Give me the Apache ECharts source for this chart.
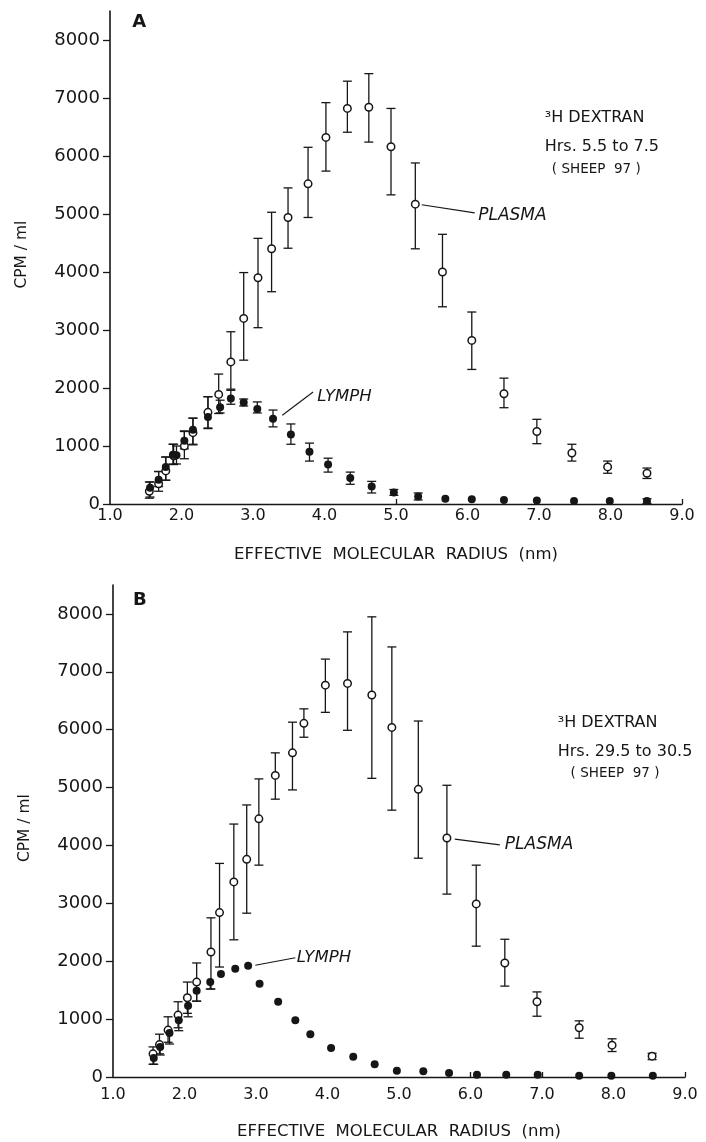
<!DOCTYPE html>
<html><head><meta charset="utf-8">
<script src="https://cdn.jsdelivr.net/npm/echarts@6/dist/echarts.min.js"></script>
<style>html,body{margin:0;padding:0;background:#fff}#c{width:706px;height:1142px}</style>
</head><body><div id="c"></div>
<script>
// ---------- tick labels ----------
const xTickValues = [1, 2, 3, 4, 5, 6, 7, 8, 9];
const yTickValues = [0, 1000, 2000, 3000, 4000, 5000, 6000, 7000, 8000];

// ---------- Panel A : Hrs 5.5 to 7.5 ----------
const aPlasmaX  = [1.55, 1.68, 1.78, 1.89, 2.04, 2.16, 2.37, 2.52, 2.69, 2.87, 3.07, 3.26, 3.49, 3.77, 4.02, 4.32, 4.62, 4.93, 5.27, 5.65, 6.06, 6.51, 6.97, 7.46, 7.96, 8.51];
const aPlasmaY  = [220, 350, 570, 830, 1000, 1230, 1580, 1890, 2450, 3200, 3900, 4400, 4940, 5520, 6320, 6820, 6840, 6160, 5170, 4000, 2820, 1900, 1250, 880, 640, 530];
const aPlasmaHi = [380, 560, 810, 1030, 1250, 1480, 1850, 2240, 2970, 3990, 4580, 5030, 5450, 6150, 6920, 7290, 7420, 6820, 5880, 4650, 3310, 2170, 1460, 1030, 740, 620];
const aPlasmaLo = [100, 220, 410, 680, 780, 1020, 1300, 1560, 1980, 2480, 3040, 3660, 4410, 4940, 5740, 6410, 6240, 5330, 4400, 3400, 2320, 1660, 1040, 740, 530, 440];

const aLymphX  = [1.56, 1.68, 1.78, 1.88, 1.93, 2.04, 2.16, 2.37, 2.54, 2.69, 2.87, 3.06, 3.28, 3.53, 3.79, 4.05, 4.36, 4.66, 4.97, 5.31, 5.69, 6.06, 6.51, 6.97, 7.49, 7.99, 8.51];
const aLymphY  = [280, 420, 640, 850, 840, 1090, 1280, 1500, 1670, 1820, 1750, 1640, 1470, 1200, 900, 680, 450, 300, 200, 130, 90, 80, 70, 60, 50, 50, 50];
const aLymphHi = [380, 560, 810, 1030, 1000, 1260, 1480, 1850, 1790, 1960, 1810, 1760, 1620, 1380, 1050, 790, 550, 390, 250, 190, 90, 80, 70, 60, 50, 50, 90];
const aLymphLo = [120, 300, 410, 690, 690, 950, 1030, 1310, 1570, 1720, 1690, 1570, 1330, 1030, 740, 550, 340, 190, 150, 70, 90, 80, 70, 60, 50, 50, 10];

// ---------- Panel B : Hrs 29.5 to 30.5 ----------
const bPlasmaX  = [1.56, 1.65, 1.77, 1.91, 2.04, 2.17, 2.37, 2.49, 2.69, 2.87, 3.04, 3.27, 3.51, 3.67, 3.97, 4.28, 4.62, 4.90, 5.27, 5.67, 6.08, 6.48, 6.93, 7.52, 7.98, 8.54];
const bPlasmaY  = [400, 560, 810, 1070, 1370, 1640, 2160, 2840, 3370, 3760, 4460, 5210, 5600, 6110, 6770, 6800, 6600, 6040, 4970, 4130, 2990, 1970, 1300, 850, 550, 360];
const bPlasmaHi = [520, 740, 1040, 1300, 1640, 1970, 2750, 3690, 4370, 4700, 5150, 5600, 6130, 6360, 7220, 7690, 7950, 7430, 6150, 5040, 3660, 2380, 1470, 970, 660, 410];
const bPlasmaLo = [220, 400, 600, 850, 1100, 1310, 1520, 1900, 2370, 2830, 3660, 4800, 4960, 5870, 6300, 5990, 5160, 4610, 3780, 3160, 2260, 1570, 1050, 670, 440, 300];

const bLymphX  = [1.57, 1.66, 1.79, 1.92, 2.05, 2.17, 2.36, 2.51, 2.71, 2.89, 3.05, 3.31, 3.55, 3.76, 4.05, 4.36, 4.66, 4.97, 5.34, 5.70, 6.09, 6.50, 6.94, 7.52, 7.97, 8.55];
const bLymphY  = [330, 520, 760, 980, 1230, 1490, 1640, 1780, 1870, 1920, 1610, 1300, 980, 740, 500, 350, 220, 110, 100, 70, 40, 40, 40, 20, 20, 20];
const bLymphLo = [220, 380, 570, 800, 1040, 1310, 1520, 1780, 1870, 1920, 1610, 1300, 980, 740, 500, 350, 220, 110, 100, 70, 40, 40, 40, 20, 20, 20];

// ---------- text ----------
const xTitle = 'EFFECTIVE  MOLECULAR  RADIUS  (nm)';
const yTitle = 'CPM / ml';
const aLines = ['\u00B3H DEXTRAN', 'Hrs. 5.5 to 7.5', '( SHEEP  97 )'];
const bLines = ['\u00B3H DEXTRAN', 'Hrs. 29.5 to 30.5', '( SHEEP  97 )'];

const FONT = 'DejaVu Sans';
const INK = '#161616';
const chart = echarts.init(document.getElementById('c'), null, {renderer: 'canvas'});

function errData(xs, ys, los, his) {
  return xs.map((x, i) => [x, los[i], his ? his[i] : ys[i], ys[i]]);
}
function errSeries(idx, data) {
  return {
    type: 'custom', xAxisIndex: idx, yAxisIndex: idx, data: data, z: 2, silent: true,
    renderItem: function (params, api) {
      const x = api.value(0), lo = api.value(1), hi = api.value(2), y = api.value(3);
      const a = api.coord([x, lo]), b = api.coord([x, hi]);
      if (Math.abs(a[1] - b[1]) < 2) return null;
      const w = 4.5, st = {stroke: INK, lineWidth: 1.3};
      const ch = [{type: 'line', shape: {x1: a[0], y1: a[1], x2: b[0], y2: b[1]}, style: st}];
      if (hi > y) ch.push({type: 'line', shape: {x1: b[0] - w, y1: b[1], x2: b[0] + w, y2: b[1]}, style: st});
      if (lo < y) ch.push({type: 'line', shape: {x1: a[0] - w, y1: a[1], x2: a[0] + w, y2: a[1]}, style: st});
      return {type: 'group', children: ch};
    }
  };
}
function pts(xs, ys) { return xs.map((x, i) => [x, ys[i]]); }
function openSeries(idx, data) {
  return {type: 'scatter', xAxisIndex: idx, yAxisIndex: idx, data: data, z: 3, symbol: 'circle', symbolSize: 7.5,
    itemStyle: {color: '#fff', borderColor: INK, borderWidth: 1.5, opacity: 1}, silent: true};
}
function filledSeries(idx, data) {
  return {type: 'scatter', xAxisIndex: idx, yAxisIndex: idx, data: data, z: 4, symbol: 'circle', symbolSize: 8,
    itemStyle: {color: INK, opacity: 1}, silent: true};
}
function xAxisDef(idx, labelMargin, nameGap, tickVals) {
  return {
    type: 'value', gridIndex: idx, min: 1, max: 9, interval: 1,
    axisLine: {show: true, lineStyle: {color: INK, width: 1.4}},
    axisTick: {show: true, inside: true, length: 5, customValues: tickVals, lineStyle: {color: INK, width: 1.3}},
    axisLabel: {customValues: xTickValues, formatter: v => v.toFixed(1), color: INK, fontFamily: FONT, fontSize: 16, margin: labelMargin},
    splitLine: {show: false},
    name: xTitle, nameLocation: 'middle', nameGap: nameGap,
    nameTextStyle: {color: INK, fontFamily: FONT, fontSize: 16.5}
  };
}
function yAxisDef(idx) {
  return {
    type: 'value', gridIndex: idx, min: 0, max: 8500,
    axisLine: {show: true, lineStyle: {color: INK, width: 1.6}},
    axisTick: {show: true, inside: false, length: 7, customValues: yTickValues, lineStyle: {color: INK, width: 1.3}},
    axisLabel: {customValues: yTickValues, formatter: v => (v > 8000 ? '' : String(v)), color: INK, fontFamily: FONT, fontSize: 18, margin: 10},
    splitLine: {show: false}
  };
}

chart.setOption({
  animation: false,
  backgroundColor: '#fff',
  grid: [
    {left: 110, right: 24, top: 11, bottom: 638},
    {left: 113, right: 21, top: 585, bottom: 65}
  ],
  xAxis: [xAxisDef(0, 4, 42, [5, 9]), xAxisDef(1, 10, 46, [6, 7, 9])],
  yAxis: [yAxisDef(0), yAxisDef(1)],
  series: [
    errSeries(0, errData(aPlasmaX, aPlasmaY, aPlasmaLo, aPlasmaHi)),
    errSeries(0, errData(aLymphX, aLymphY, aLymphLo, aLymphHi)),
    openSeries(0, pts(aPlasmaX, aPlasmaY)),
    filledSeries(0, pts(aLymphX, aLymphY)),
    errSeries(1, errData(bPlasmaX, bPlasmaY, bPlasmaLo, bPlasmaHi)),
    errSeries(1, errData(bLymphX, bLymphY, bLymphLo, null)),
    openSeries(1, pts(bPlasmaX, bPlasmaY)),
    filledSeries(1, pts(bLymphX, bLymphY))
  ]
});

// ---------- annotations anchored in data coordinates ----------
const texts = [
  {g: 0, at: [1.31, 8310], text: 'A', size: 18, weight: 'bold'},
  {g: 0, at: [7.08, 6655], text: aLines[0], size: 16},
  {g: 0, at: [7.08, 6155], text: aLines[1], size: 16},
  {g: 0, at: [7.18, 5760], text: aLines[2], size: 13.5},
  {g: 0, at: [6.15, 4980], text: 'PLASMA', size: 17, style: 'italic'},
  {g: 0, at: [3.90, 1845], text: 'LYMPH', size: 16.5, style: 'italic'},
  {g: 1, at: [1.28, 8240], text: 'B', size: 18, weight: 'bold'},
  {g: 1, at: [7.22, 6110], text: bLines[0], size: 16},
  {g: 1, at: [7.22, 5610], text: bLines[1], size: 16},
  {g: 1, at: [7.40, 5250], text: bLines[2], size: 13.5},
  {g: 1, at: [6.48, 4010], text: 'PLASMA', size: 17, style: 'italic'},
  {g: 1, at: [3.57, 2055], text: 'LYMPH', size: 16.5, style: 'italic'}
];
const leaders = [
  {g: 0, from: [5.36, 5160], to: [6.10, 5020]},
  {g: 0, from: [3.41, 1530], to: [3.84, 1930]},
  {g: 1, from: [5.78, 4110], to: [6.41, 4010]},
  {g: 1, from: [2.99, 1930], to: [3.55, 2060]}
];
const graphics = [];
texts.forEach(t => {
  const p = chart.convertToPixel({gridIndex: t.g}, t.at);
  graphics.push({type: 'text', x: p[0], y: p[1], silent: true, z: 10,
    style: {text: t.text, fill: INK, fontFamily: FONT, fontSize: t.size, fontWeight: t.weight || 'normal',
      fontStyle: t.style || 'normal', textAlign: 'left', textVerticalAlign: 'middle'}});
});
leaders.forEach(l => {
  const a = chart.convertToPixel({gridIndex: l.g}, l.from);
  const b = chart.convertToPixel({gridIndex: l.g}, l.to);
  graphics.push({type: 'line', silent: true, z: 10, shape: {x1: a[0], y1: a[1], x2: b[0], y2: b[1]},
    style: {stroke: INK, lineWidth: 1.1}});
});
// rotated y-axis titles, centred on each panel's value range
[[0, 22], [1, 25]].forEach(([gi, px]) => {
  const c = chart.convertToPixel({gridIndex: gi}, [1, 4300]);
  graphics.push({type: 'text', x: px, y: c[1], rotation: Math.PI / 2, silent: true, z: 10,
    style: {text: yTitle, fill: INK, fontFamily: FONT, fontSize: 15.5, textAlign: 'center', textVerticalAlign: 'middle'}});
});
chart.setOption({graphic: graphics});
</script>
</body></html>
